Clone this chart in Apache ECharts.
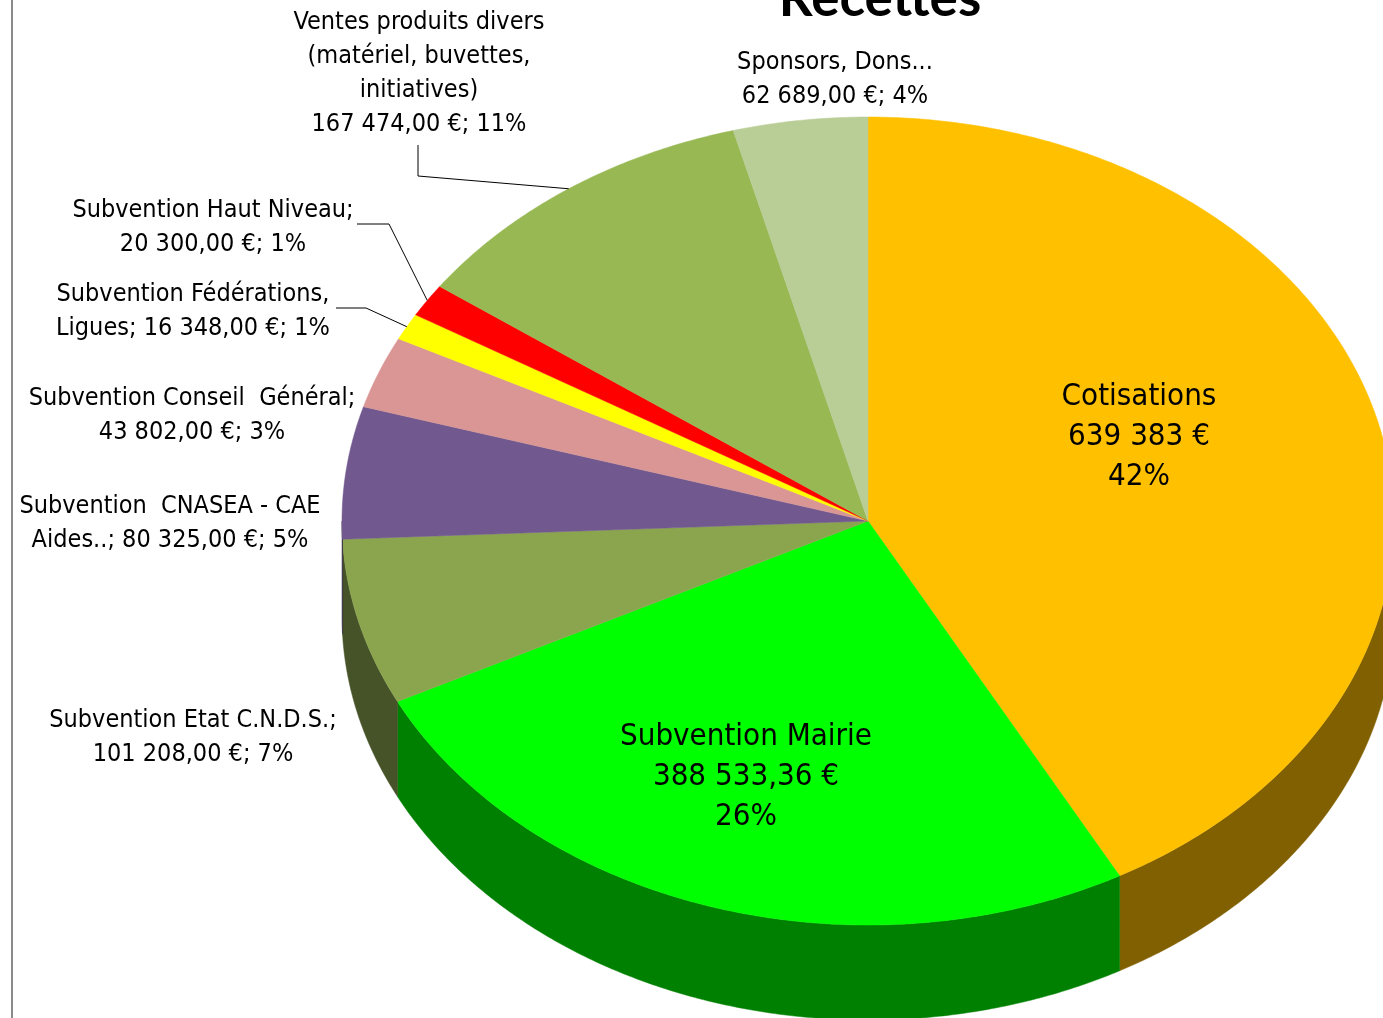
<!DOCTYPE html>
<html>
<head>
<meta charset="utf-8">
<title>Recettes</title>
<script src="https://cdn.jsdelivr.net/npm/echarts@6/dist/echarts.min.js"></script>
<style>
  html, body { margin: 0; padding: 0; background: #fff; }
  #main { width: 1383px; height: 1018px; }
</style>
</head>
<body>
<div id="main"></div>
<script>
// données du graphique (ordre horaire depuis 12h)
const categories = ['Cotisations', 'Subvention Mairie', 'Subvention Etat C.N.D.S.',
  'Subvention  CNASEA - CAE Aides..', 'Subvention Conseil  Général',
  'Subvention Fédérations, Ligues', 'Subvention Haut Niveau',
  'Ventes produits divers (matériel, buvettes, initiatives)', 'Sponsors, Dons...']
const values = [639383, 388533.36, 101208, 80325, 43802, 16348, 20300, 167474, 62689]
// texte des étiquettes (nom tel qu'affiché, séparateur compris)
const labelNames = ['Cotisations\n', 'Subvention Mairie\n', 'Subvention Etat C.N.D.S.;\n',
  'Subvention  CNASEA - CAE\nAides..; ', 'Subvention Conseil  Général;\n',
  'Subvention Fédérations,\nLigues; ', 'Subvention Haut Niveau;\n',
  'Ventes produits divers\n(matériel, buvettes,\ninitiatives)\n', 'Sponsors, Dons...\n']
const colors = ['#FFC000', '#00FF00', '#8BA54F', '#71598F', '#D99694', '#FFFF00', '#FF0000', '#97B853', '#B9CD96']

// mise en page
const cx = 868, cy = 521, rx = 526, ry = 404, depth = 95
const labelPos = [[1139, 437], [746, 777], [193, 737], [170, 523], [192, 415], [193, 311], [213, 227], [419, 73], [835, 79]]
const insideLabel = [true, true, false, false, false, false, false, false, false]
const leaderElbow = { 5: [[336, 308], [366, 308]], 6: [[357, 224], [389, 224]], 7: [[418, 145], [418, 176]] }

const total = values.reduce((a, b) => a + b, 0)
const cum = [0]
values.forEach((v, i) => cum.push(cum[i] + v))

function ellPt (deg, dy) {
  const a = deg * Math.PI / 180
  return [cx + rx * Math.sin(a), cy - ry * Math.cos(a) + (dy || 0)]
}
function arc (a0, a1, dy) {
  const pts = []
  const n = Math.max(2, Math.ceil(Math.abs(a1 - a0) / 0.5))
  for (let k = 0; k <= n; k++) pts.push(ellPt(a0 + (a1 - a0) * k / n, dy))
  return pts
}
function darken (hex, f) {
  const n = parseInt(hex.slice(1), 16)
  const r = Math.round(((n >> 16) & 255) * f)
  const g = Math.round(((n >> 8) & 255) * f)
  const b = Math.round((n & 255) * f)
  return 'rgb(' + r + ',' + g + ',' + b + ')'
}
function fmt (v, dec) {
  const parts = v.toFixed(dec).split('.')
  const int = parts[0].replace(/\B(?=(\d{3})+(?!\d))/g, ' ')
  return parts.length > 1 ? int + ',' + parts[1] : int
}
function labelText (i) {
  const pct = Math.round(values[i] / total * 100) + '%'
  if (i === 0) return labelNames[i] + fmt(values[i], 0) + ' €\n' + pct
  if (i === 1) return labelNames[i] + fmt(values[i], 2) + ' €\n' + pct
  return labelNames[i] + fmt(values[i], 2) + ' €; ' + pct
}

const chart = echarts.init(document.getElementById('main'))

const graphics = [
  { type: 'line', shape: { x1: 12, y1: 0, x2: 12, y2: 1018 }, style: { stroke: '#8a8a8a', lineWidth: 2 }, z: 10 }
]
values.forEach((v, i) => {
  const mid = (cum[i] + cum[i + 1]) / 2 / total * 360
  if (leaderElbow[i]) {
    graphics.push({
      type: 'polyline',
      shape: { points: leaderElbow[i].concat([ellPt(mid)]) },
      style: { stroke: '#000', lineWidth: 1, fill: null },
      z: 20
    })
  }
  const inside = insideLabel[i]
  graphics.push({
    type: 'text',
    x: labelPos[i][0],
    y: labelPos[i][1],
    z: 30,
    style: {
      text: labelText(i),
      align: 'center',
      verticalAlign: 'middle',
      fontFamily: '"DejaVu Sans Condensed", "DejaVu Sans", sans-serif',
      fontSize: inside ? 31 : 25,
      lineHeight: inside ? 40 : 34,
      fill: '#000'
    }
  })
})

chart.setOption({
  animation: false,
  title: {
    text: 'Recettes',
    left: 875,
    top: -33,
    textAlign: 'center',
    textStyle: { fontFamily: 'Lato', fontWeight: 'bold', fontSize: 53, color: '#000' }
  },
  series: [{
    type: 'custom',
    coordinateSystem: 'none',
    data: values.map((v, i) => ({ name: categories[i], value: v })),
    renderItem: function (params, api) {
      const i = params.dataIndex
      const a0 = cum[i] / total * 360
      const a1 = cum[i + 1] / total * 360
      const children = []
      const s = Math.max(a0, 90), e = Math.min(a1, 270)
      if (s < e) {
        children.push({
          type: 'polygon',
          shape: { points: arc(s, e).concat(arc(e, s, depth)) },
          style: { fill: darken(colors[i], 0.5), stroke: darken(colors[i], 0.5), lineWidth: 0.5 }
        })
      }
      children.push({
        type: 'polygon',
        shape: { points: [[cx, cy]].concat(arc(a0, a1)) },
        style: { fill: colors[i], stroke: colors[i], lineWidth: 0.5 }
      })
      return { type: 'group', children: children }
    }
  }],
  graphic: graphics
})
</script>
</body>
</html>
